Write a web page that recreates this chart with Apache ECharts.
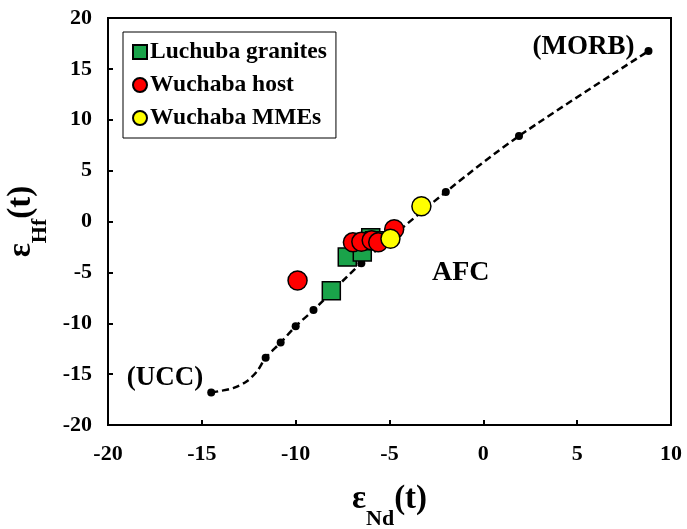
<!DOCTYPE html>
<html>
<head>
<meta charset="utf-8">
<script src="https://cdn.jsdelivr.net/npm/echarts@6/dist/echarts.min.js"></script>
<style>
  html, body { margin: 0; padding: 0; background: #fff; }
  #chart { width: 687px; height: 529px; }
</style>
</head>
<body>
<div id="chart"></div>
<script>
// AFC trajectory between upper continental crust (UCC) and MORB, in εNd–εHf space
const afcPath = [
  [-14.5, -16.8], [-14.0, -16.65], [-13.3, -16.35], [-12.6, -15.7], [-12.05, -14.7],
  [-11.6, -13.4], [-10.8, -11.9], [-10.0, -10.3], [-9.05, -8.7], [-6.5, -4.1],
  [-2.0, 2.9], [1.9, 8.4], [8.8, 16.75]
];
// Increment markers along the AFC trajectory
const afcSteps = [
  [-14.5, -16.8], [-11.6, -13.4], [-10.8, -11.9], [-10.0, -10.3],
  [-9.05, -8.7], [-6.5, -4.1], [-2.0, 2.9], [1.9, 8.4], [8.8, 16.75]
];
// Sample data
const luchubaGranites = [[-8.1, -6.8], [-7.25, -3.5], [-6.45, -3.0], [-6.0, -1.6], [-5.8, -1.9]];
const wuchabaHost = [[-9.9, -5.8], [-6.95, -2.05], [-6.5, -2.0], [-5.95, -1.85], [-5.6, -2.05], [-4.75, -0.75]];
const wuchabaMMEs = [[-3.3, 1.5], [-4.95, -1.7]];
// Axis ticks
const xTicks = { min: -20, max: 10, step: 5 };
const yTicks = { min: -20, max: 20, step: 5 };
// Text annotations
const endLabels = ['(UCC)', '(MORB)'];
const afcLabelAt = [-1.2, -5.0];

const FONT = '"Liberation Serif", "Times New Roman", serif';
const chart = echarts.init(document.getElementById('chart'), null, { renderer: 'canvas' });

const axisCommon = {
  axisLine: { show: true, onZero: false, lineStyle: { color: '#000', width: 2 } },
  axisTick: { show: true, inside: true, length: 5, lineStyle: { color: '#000', width: 2 } },
  splitLine: { show: false }
};
const tickLabel = { color: '#000', fontFamily: FONT, fontWeight: 'bold', fontSize: 22 };

const nameRich = {
  e: { fontFamily: FONT, fontWeight: 'bold', fontSize: 33, color: '#000' },
  s: { fontFamily: FONT, fontWeight: 'bold', fontSize: 22, color: '#000', verticalAlign: 'bottom', padding: [0, 0, -14, 0] }
};

const endLabelStyle = { fontFamily: FONT, fontWeight: 'bold', fontSize: 27, color: '#000', position: 'left', show: true };

const stepData = afcSteps.map(function (p, i) {
  if (i === 0) {
    return { value: p, label: Object.assign({}, endLabelStyle, { formatter: endLabels[0], distance: 4, offset: [0, -14] }) };
  }
  if (i === afcSteps.length - 1) {
    return { value: p, label: Object.assign({}, endLabelStyle, { formatter: endLabels[1], distance: 10, offset: [0, -4] }) };
  }
  return p;
});

chart.setOption({
  animation: false,
  backgroundColor: '#fff',
  grid: {
    left: 108, top: 18, right: 16, bottom: 104,
    containLabel: false, outerBoundsMode: 'none',
    show: true, borderColor: '#000', borderWidth: 2
  },
  xAxis: Object.assign({
    type: 'value', min: xTicks.min, max: xTicks.max, interval: xTicks.step,
    name: '{e|ε}{s|Nd}{e|(t)}', nameLocation: 'middle', nameGap: 58,
    nameTextStyle: { rich: nameRich },
    axisLabel: Object.assign({ margin: 18 }, tickLabel)
  }, axisCommon),
  yAxis: Object.assign({
    type: 'value', min: yTicks.min, max: yTicks.max, interval: yTicks.step,
    name: '{e|ε}{s|Hf}{e|(t)}', nameLocation: 'middle', nameGap: 68, nameRotate: 90,
    nameTextStyle: { rich: nameRich },
    axisLabel: Object.assign({ margin: 16 }, tickLabel)
  }, axisCommon),
  legend: {
    left: 123, top: 32, orient: 'vertical',
    backgroundColor: '#fff', borderColor: '#000', borderWidth: 1,
    padding: [8, 9, 8, 9], itemGap: 9, itemWidth: 14, itemHeight: 14,
    textStyle: { fontFamily: FONT, fontWeight: 'bold', fontSize: 23.5, color: '#000', padding: [0, 0, 0, -2] },
    data: ['Luchuba granites', 'Wuchaba host', 'Wuchaba MMEs']
  },
  series: [
    {
      name: 'AFC path', type: 'line', data: afcPath, smooth: 0.3,
      showSymbol: false, symbol: 'none',
      lineStyle: { color: '#000', width: 2.5, type: [7, 4] },
      z: 1, silent: true
    },
    {
      name: 'AFC steps', type: 'scatter', data: stepData,
      symbol: 'circle', symbolSize: 8,
      itemStyle: { color: '#000', opacity: 1 },
      z: 1
    },
    {
      name: 'Luchuba granites', type: 'scatter', data: luchubaGranites, symbol: 'rect', symbolSize: 18,
      itemStyle: { color: '#1aa34a', borderColor: '#000', borderWidth: 1.5, opacity: 1 }, z: 2
    },
    {
      name: 'Wuchaba host', type: 'scatter', data: wuchabaHost, symbol: 'circle', symbolSize: 19,
      itemStyle: { color: '#ff0000', borderColor: '#000', borderWidth: 1.5, opacity: 1 }, z: 3
    },
    {
      name: 'Wuchaba MMEs', type: 'scatter', data: wuchabaMMEs, symbol: 'circle', symbolSize: 19,
      itemStyle: { color: '#ffff00', borderColor: '#000', borderWidth: 1.5, opacity: 1 }, z: 4
    },
    {
      name: 'AFC label', type: 'scatter', data: [afcLabelAt], symbolSize: 0, silent: true,
      itemStyle: { opacity: 1 },
      label: { show: true, position: 'inside', formatter: 'AFC', fontFamily: FONT, fontWeight: 'bold', fontSize: 28, color: '#000' }
    }
  ]
});
</script>
</body>
</html>
